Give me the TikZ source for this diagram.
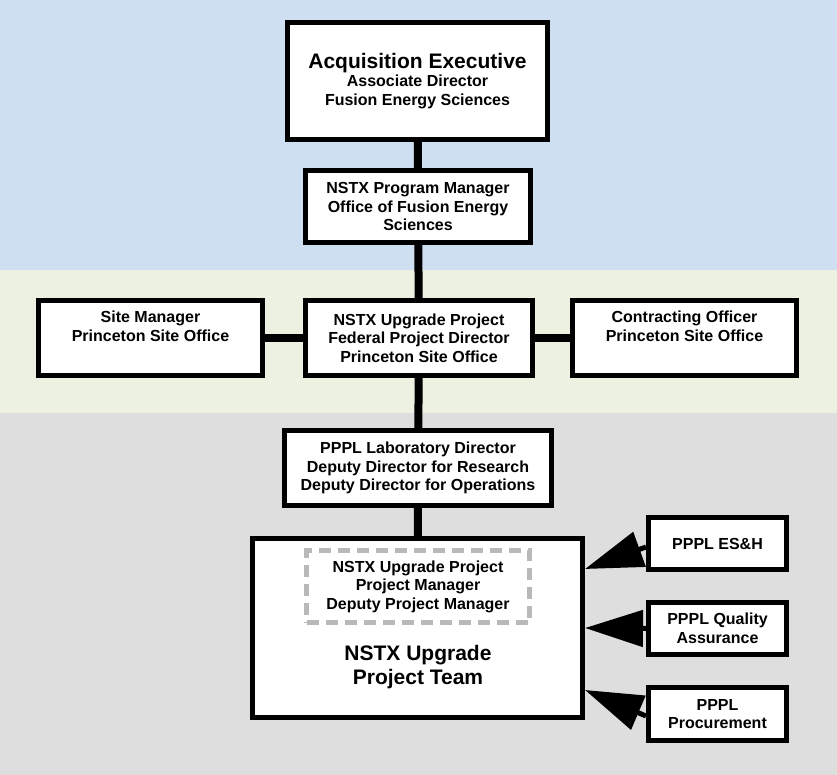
\documentclass[tikz,border=0pt]{standalone}
\usepackage{fontspec}
\setmainfont{Liberation Sans}
\usepackage{tikz}
\usetikzlibrary{
	positioning,
	arrows.meta
}
\definecolor{bandblue}{RGB}{206,223,241}
\definecolor{bandgreen}{RGB}{237,241,226}
\definecolor{bandgray}{RGB}{222,222,222}
\definecolor{dashgray}{RGB}{185,185,185}
\newcommand{\bigline}[1]{{\fontsize{21}{22}\selectfont #1}}

\begin{document}
\begin{tikzpicture}[
	x=1pt, y=-1pt,
	box/.style={draw, line width=5pt, fill=white, align=center, inner sep=0pt,
		font=\bfseries\fontsize{16}{18.5}\selectfont},
	dashbox/.style={box, draw=dashgray, dash pattern=on 12pt off 7pt},
	link/.style={line width=8pt},
	feed/.style={line width=5pt, -{Triangle[length=58pt,width=36pt]}}
]
	% background bands
	\useasboundingbox (0,0) rectangle (837,775);
	\fill[bandblue]  (0,0)   rectangle (837,270);
	\fill[bandgreen] (0,270) rectangle (837,413);
	\fill[bandgray]  (0,413) rectangle (837,775);

	\node [box, minimum width=260, minimum height=117] (acq) at (417.5,81)
		{\bigline{Acquisition Executive}\\Associate Director\\Fusion Energy Sciences};
	\node [box, minimum width=225, minimum height=72] (pm) at (418,206.5)
		{NSTX Program Manager\\Office of Fusion Energy\\Sciences};
	\node [box, minimum width=227, minimum height=75] (fpd) at (419,338)
		{NSTX Upgrade Project\\Federal Project Director\\Princeton Site Office};
	\node [box, minimum width=224, minimum height=75] (site) at (150.5,338)
		{Site Manager\\Princeton Site Office\\\strut};
	\node [box, minimum width=224, minimum height=75] (co) at (684.5,338)
		{Contracting Officer\\Princeton Site Office\\\strut};
	\node [box, minimum width=267, minimum height=75] (lab) at (418,468)
		{PPPL Laboratory Director\\Deputy Director for Research\\Deputy Director for Operations};
	\node [box, minimum width=330, minimum height=179] (team) at (417.5,628) {};
	\node [dashbox, minimum width=223, minimum height=72] (ppm) at (418,586.5)
		{NSTX Upgrade Project\\Project Manager\\Deputy Project Manager};
	\node [align=center, font=\bfseries\fontsize{21}{24}\selectfont] (teamlbl) at (418,667)
		{NSTX Upgrade\\Project Team};

	\node [box, minimum width=138, minimum height=52] (esh)  at (717.5,543.5) {PPPL ES\&H};
	\node [box, minimum width=138, minimum height=52] (qa)   at (717.5,628.5) {PPPL Quality\\Assurance};
	\node [box, minimum width=138, minimum height=53] (proc) at (717.5,714)   {PPPL\\Procurement};

	\draw [link]
		(acq)  edge (pm)
		(pm)   edge (fpd)
		(fpd)  edge (lab)
		(lab)  edge (team)
		(site) edge (fpd)
		(fpd)  edge (co)
	;

	\draw [feed] ([yshift=-3.5pt]esh.west) -- ([yshift=59pt]team.east);
	\draw [feed] (qa.west) -- (team.east);
	\draw [feed] ([yshift=-2pt]proc.west) -- ([yshift=-62pt]team.east);
\end{tikzpicture}
\end{document}
